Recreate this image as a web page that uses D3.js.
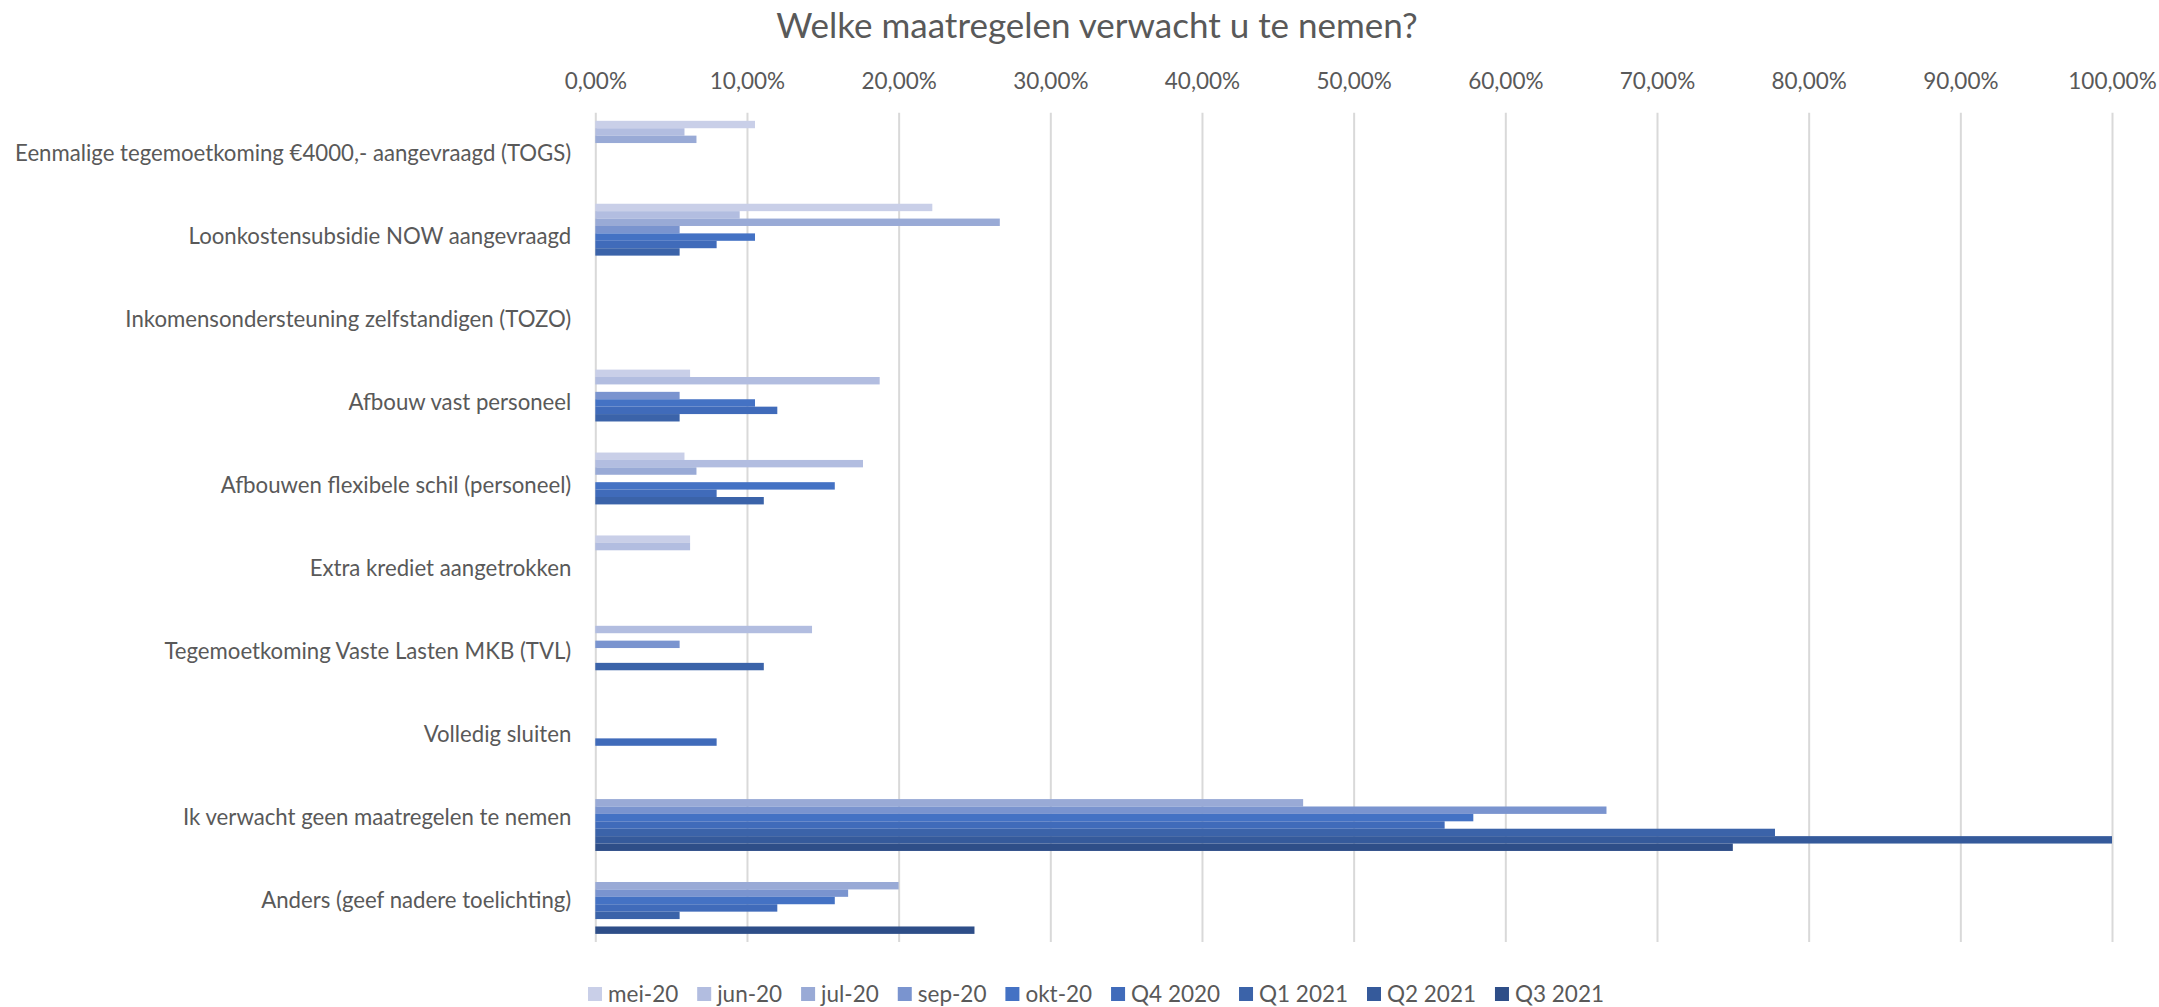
<!DOCTYPE html>
<html>
<head>
<meta charset="utf-8">
<script src="https://cdn.jsdelivr.net/npm/d3@7"></script>
<style>
  body { margin: 0; background: #fff; }
  svg { display: block; font-family: Lato, "Open Sans", sans-serif; }
</style>
</head>
<body>
<div id="chart"></div>
<script>
var categories = [
  "Eenmalige tegemoetkoming €4000,- aangevraagd (TOGS)",
  "Loonkostensubsidie NOW aangevraagd",
  "Inkomensondersteuning zelfstandigen (TOZO)",
  "Afbouw vast personeel",
  "Afbouwen flexibele schil (personeel)",
  "Extra krediet aangetrokken",
  "Tegemoetkoming Vaste Lasten MKB (TVL)",
  "Volledig sluiten",
  "Ik verwacht geen maatregelen te nemen",
  "Anders (geef nadere toelichting)"
];

var seriesNames = ["mei-20", "jun-20", "jul-20", "sep-20", "okt-20", "Q4 2020", "Q1 2021", "Q2 2021", "Q3 2021"];

// percentages per category, same order as categories
var mei20  = [10.53, 22.22, 0, 6.25, 5.88, 6.25, 0, 0, 0, 0];
var jun20  = [5.88, 9.52, 0, 18.75, 17.65, 6.25, 14.29, 0, 0, 0];
var jul20  = [6.67, 26.67, 0, 0, 6.67, 0, 0, 0, 46.67, 20];
var sep20  = [0, 5.56, 0, 5.56, 0, 0, 5.56, 0, 66.67, 16.67];
var okt20  = [0, 10.53, 0, 10.53, 15.79, 0, 0, 0, 57.89, 15.79];
var q42020 = [0, 8, 0, 12, 8, 0, 0, 8, 56, 12];
var q12021 = [0, 5.56, 0, 5.56, 11.11, 0, 11.11, 0, 77.78, 5.56];
var q22021 = [0, 0, 0, 0, 0, 0, 0, 0, 100, 0];
var q32021 = [0, 0, 0, 0, 0, 0, 0, 0, 75, 25];

var seriesValues = [mei20, jun20, jul20, sep20, okt20, q42020, q12021, q22021, q32021];
var colors = ["#c9cfe8", "#b2bde0", "#99aad6", "#7a94cf", "#4472c4", "#406bba", "#3b63a9", "#355a9b", "#2e4e88"];
var tickValues = [0, 10, 20, 30, 40, 50, 60, 70, 80, 90, 100];

var width = 2159;
var height = 1007;
var plotLeft = 595.3;
var plotRight = 2112;
var plotTop = 112.7;
var plotBottom = 942;
var textColor = "#595959";

var nl = d3.formatLocale({ decimal: ",", thousands: ".", grouping: [3], currency: ["€", ""] });
var pct = nl.format(".2f");

var svg = d3.select("#chart").append("svg")
  .attr("width", width)
  .attr("height", height);

var x = d3.scaleLinear().domain([0, 100]).range([plotLeft, plotRight]);
var y0 = d3.scaleBand().domain(categories).range([plotTop, plotBottom]).padding(0);
// excel gap width ~219%
var y1 = d3.scaleBand().domain(seriesNames).range([0, y0.bandwidth()])
  .paddingInner(0).paddingOuter(1.095);

// title
svg.append("text")
  .attr("x", 1097)
  .attr("y", 38)
  .attr("text-anchor", "middle")
  .attr("font-size", 35)
  .attr("fill", textColor)
  .text("Welke maatregelen verwacht u te nemen?");

// top axis + gridlines
var xAxis = svg.append("g")
  .attr("transform", "translate(0," + plotTop + ")")
  .call(d3.axisTop(x)
    .tickValues(tickValues)
    .tickSize(-(plotBottom - plotTop))
    .tickPadding(23.5)
    .tickFormat(function(d) { return pct(d) + "%"; }));
xAxis.select(".domain").remove();
xAxis.selectAll(".tick line")
  .attr("stroke", "#d9d9d9")
  .attr("stroke-width", 2);
xAxis.selectAll(".tick text")
  .attr("font-size", 22.5)
  .attr("font-family", "Lato, sans-serif")
  .attr("fill", textColor);

// category labels
var yAxis = svg.append("g")
  .attr("transform", "translate(" + plotLeft + ",0)")
  .call(d3.axisLeft(y0).tickSize(0).tickPadding(24));
yAxis.select(".domain").remove();
yAxis.selectAll(".tick text")
  .attr("font-size", 22.2)
  .attr("font-family", "Lato, sans-serif")
  .attr("fill", textColor);

// bars
var groups = svg.append("g").selectAll("g")
  .data(categories)
  .join("g")
  .attr("transform", function(d) { return "translate(0," + y0(d) + ")"; });

groups.selectAll("rect")
  .data(function(d, i) {
    return seriesNames.map(function(s, j) {
      return { series: s, value: seriesValues[j][i], color: colors[j] };
    }).filter(function(e) { return e.value > 0; });
  })
  .join("rect")
  .attr("x", x(0))
  .attr("y", function(d) { return y1(d.series); })
  .attr("width", function(d) { return x(d.value) - x(0); })
  .attr("height", y1.bandwidth())
  .attr("fill", function(d) { return d.color; });

// legend
var legend = svg.append("g");
var items = legend.selectAll("g")
  .data(seriesNames)
  .join("g");
items.append("rect")
  .attr("width", 14)
  .attr("height", 14)
  .attr("y", -7)
  .attr("fill", function(d, i) { return colors[i]; });
items.append("text")
  .attr("x", 20)
  .attr("dy", "0.35em")
  .attr("font-size", 22.5)
  .attr("fill", textColor)
  .text(function(d) { return d; });

var legendLeft = 588;
var legendRight = 1604;
var widths = [];
items.select("text").each(function() { widths.push(20 + this.getComputedTextLength()); });
var gap = (legendRight - legendLeft - d3.sum(widths)) / (widths.length - 1);
var pos = legendLeft;
items.attr("transform", function(d, i) {
  var t = "translate(" + pos + ",994)";
  pos += widths[i] + gap;
  return t;
});
</script>
</body>
</html>
